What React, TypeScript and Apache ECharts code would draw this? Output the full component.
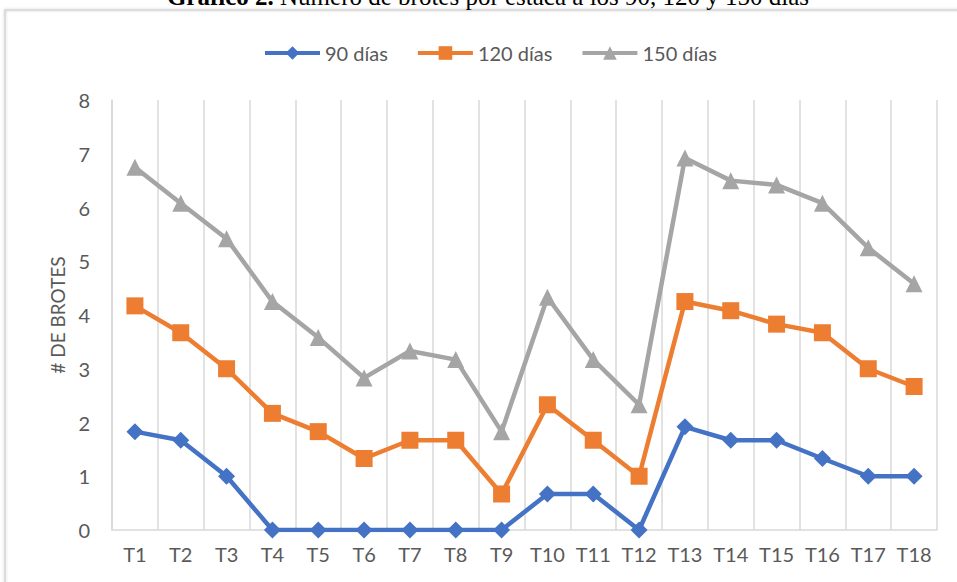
import React, { useEffect, useRef } from "react";
import * as echarts from "echarts";

const categories = ["T1","T2","T3","T4","T5","T6","T7","T8","T9","T10","T11","T12","T13","T14","T15","T16","T17","T18"];
const d90 = [1.83, 1.67, 1, 0, 0, 0, 0, 0, 0, 0.67, 0.67, 0, 1.92, 1.67, 1.67, 1.33, 1, 1];
const d120 = [4.17, 3.67, 3, 2.17, 1.83, 1.33, 1.67, 1.67, 0.67, 2.33, 1.67, 1, 4.25, 4.08, 3.83, 3.67, 3, 2.67];
const d150 = [6.75, 6.08, 5.42, 4.25, 3.58, 2.83, 3.33, 3.17, 1.83, 4.33, 3.17, 2.33, 6.92, 6.5, 6.42, 6.08, 5.25, 4.58];
const seriesNames = ["90 días", "120 días", "150 días"];
const titleBold = "Gráfico 2.";
const titleRest = " Número de brotes por estaca a los 90, 120 y 150 días";

export default function App() {
  const ref = useRef<HTMLDivElement>(null);
  useEffect(() => {
    if (!ref.current) return;
    const chart = echarts.init(ref.current, null, { renderer: "svg" });
    const font = "Lato, 'Open Sans', sans-serif";
    const txt = "#595959";
    chart.setOption({
      animation: false,
      backgroundColor: "#ffffff",
      graphic: [
        {
          type: "rect",
          shape: { x: 5, y: 10, width: 1000, height: 1000 },
          style: { fill: "none", stroke: "#d4d4d4", lineWidth: 1.5, shadowBlur: 3, shadowColor: "rgba(0,0,0,0.18)" },
          silent: true,
        },
        {
          type: "text",
          x: 488,
          y: -4,
          style: {
            text: "{b|" + titleBold + "}{r|" + titleRest + "}",
            align: "center",
            verticalAlign: "middle",
            rich: {
              b: { fontFamily: "'Liberation Serif', 'Times New Roman', serif", fontSize: 25, fontWeight: "bold", fill: "#000" },
              r: { fontFamily: "'Liberation Serif', 'Times New Roman', serif", fontSize: 25, fill: "#000" },
            },
          },
        },
      ],
      legend: {
        left: 258,
        top: 38,
        itemWidth: 55,
        itemHeight: 17,
        itemGap: 28,
        lineStyle: { width: 4 },
        textStyle: { fontFamily: font, fontSize: 20, color: txt },
        data: seriesNames,
      },
      grid: { left: 112, right: 20, top: 100, bottom: 52 },
      xAxis: {
        type: "category",
        data: categories,
        boundaryGap: true,
        axisLine: { show: true, lineStyle: { color: "#d9d9d9", width: 1.5 } },
        axisTick: { show: false },
        splitLine: { show: true, lineStyle: { color: "#d9d9d9", width: 1.5 } },
        axisLabel: { fontFamily: font, fontSize: 20, color: txt, margin: 14, interval: 0 },
      },
      yAxis: {
        type: "value",
        min: 0,
        max: 8,
        interval: 1,
        name: "# DE BROTES",
        nameLocation: "middle",
        nameGap: 45,
        nameTextStyle: { fontFamily: font, fontSize: 19, color: txt },
        axisLine: { show: true, lineStyle: { color: "#d9d9d9", width: 1.5 } },
        axisTick: { show: false },
        splitLine: { show: false },
        axisLabel: { fontFamily: font, fontSize: 20, color: txt, margin: 22 },
      },
      series: [
        {
          name: seriesNames[0],
          type: "line",
          data: d90,
          color: "#4472C4",
          symbol: "diamond",
          symbolSize: 17,
          lineStyle: { width: 4.5, color: "#4472C4" },
          itemStyle: { color: "#4472C4" },
        },
        {
          name: seriesNames[1],
          type: "line",
          data: d120,
          color: "#ED7D31",
          symbol: "rect",
          symbolSize: 17,
          lineStyle: { width: 4.5, color: "#ED7D31" },
          itemStyle: { color: "#ED7D31" },
        },
        {
          name: seriesNames[2],
          type: "line",
          data: d150,
          color: "#A5A5A5",
          symbol: "triangle",
          symbolSize: 17,
          lineStyle: { width: 4.5, color: "#A5A5A5" },
          itemStyle: { color: "#A5A5A5" },
        },
      ],
    });
    return () => chart.dispose();
  }, []);
  return <div ref={ref} style={{ position: "fixed", left: 0, top: 0, width: 957, height: 582 }} />;
}
